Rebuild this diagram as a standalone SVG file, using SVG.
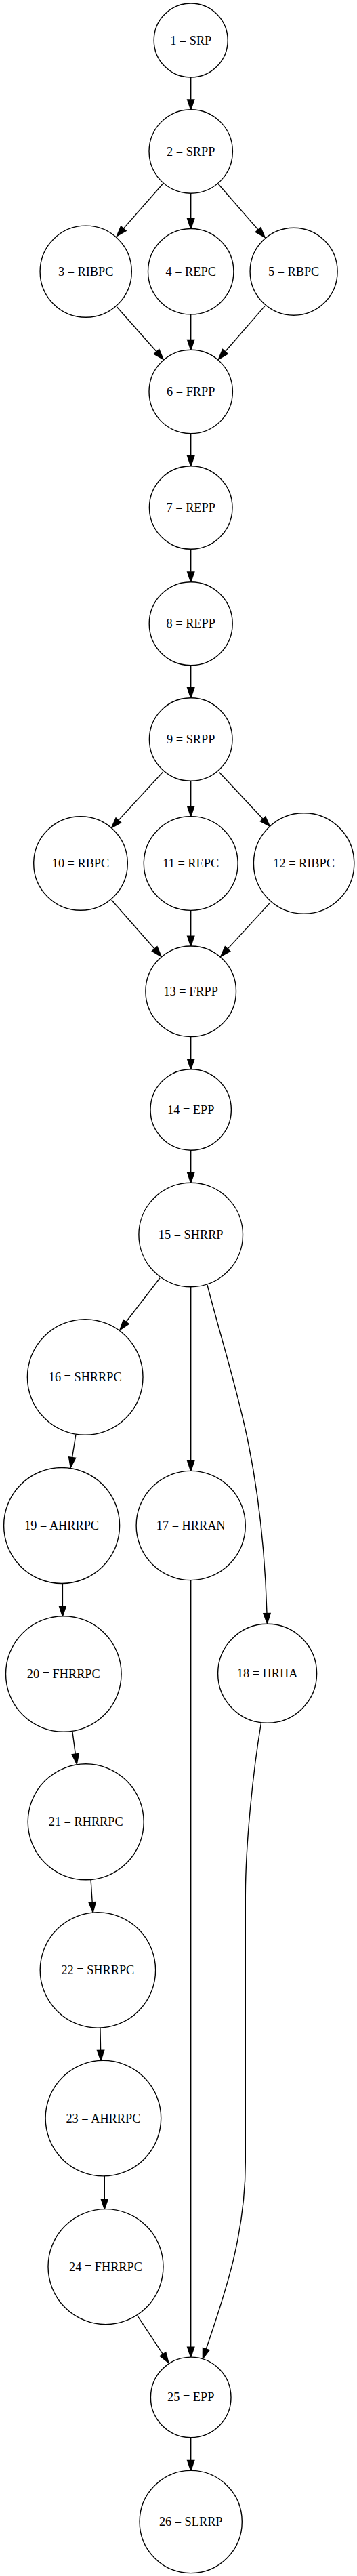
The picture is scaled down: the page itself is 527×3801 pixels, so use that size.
<svg xmlns="http://www.w3.org/2000/svg" width="527" height="3801" viewBox="0 0 527 3801">
<style>
.n circle{fill:#fff;stroke:#000;stroke-width:1.4}
.n text{font-family:"Liberation Serif","Times New Roman",serif;font-size:18.3px;text-anchor:middle;fill:#000}
.e path{fill:none;stroke:#000;stroke-width:1.4;marker-end:url(#ah)}
</style>
<defs>
<marker id="ah" markerUnits="userSpaceOnUse" markerWidth="20" markerHeight="14" refX="0" refY="0" orient="auto" overflow="visible" viewBox="-1 -6 17 12">
<path d="M-0.5,-5.2 L15,0 L-0.5,5.2 z" fill="#000"/>
</marker>
</defs>
<rect width="527" height="3801" fill="#fff"/>
<g id="edges" class="e">
<path d="M281.7,114 L281.7,146.8"/>
<path d="M240.3,271.3 L182.4,337.1"/>
<path d="M281.7,285.2 L281.7,322.5"/>
<path d="M322,271.3 L381,338.9"/>
<path d="M172.4,452.7 L231,518.8"/>
<path d="M281.7,463.9 L281.7,501.3"/>
<path d="M390.9,451.6 L332.5,518.7"/>
<path d="M281.7,639.7 L281.7,672.7"/>
<path d="M281.7,810.3 L281.7,843.8"/>
<path d="M281.7,981.8 L281.7,1014.7"/>
<path d="M240.3,1139.3 L174.9,1210.4"/>
<path d="M281.7,1152.3 L281.7,1189.6"/>
<path d="M323.4,1139.3 L388,1208.3"/>
<path d="M164.7,1328 L228.1,1400"/>
<path d="M281.7,1343.4 L281.7,1381"/>
<path d="M399,1331.6 L336.1,1400.1"/>
<path d="M281.7,1529.6 L281.7,1562.8"/>
<path d="M281.7,1697.2 L281.7,1730.2"/>
<path d="M236,1885.7 L186.3,1950.3"/>
<path d="M281.7,1898.8 L281.7,2155.4"/>
<path d="M306,1896 C326,1974 351.1,2052 366.7,2130 C383.3,2213 391.5,2297.5 394,2380.5"/>
<path d="M111.9,2117 L106.6,2150.5"/>
<path d="M92.4,2336.5 L92.4,2369.7"/>
<path d="M106.9,2555 L111.3,2587.9"/>
<path d="M134.1,2774 L136.2,2806.8"/>
<path d="M147.9,2992 L148.6,3025.3"/>
<path d="M154.3,3211 L154.3,3244.6"/>
<path d="M203,3417.2 L240.4,3473.7"/>
<path d="M281.7,2331.8 L281.7,3463"/>
<path d="M385.5,2542 C374,2610 362.3,2720 362.3,2800 L362.3,3190 C362.3,3300 330,3390 304.3,3465.9"/>
<path d="M281.7,3596.7 L281.7,3630.4"/>
</g>
<g id="node1" class="n"><circle cx="281.7" cy="59.5" r="54.5"/><text x="281.7" y="65.5">1 = SRP</text></g>
<g id="node2" class="n"><circle cx="281.7" cy="223.5" r="61.7"/><text x="281.7" y="229.5">2 = SRPP</text></g>
<g id="node3" class="n"><circle cx="126.7" cy="400.7" r="67.6"/><text x="126.7" y="406.7">3 = RIBPC</text></g>
<g id="node4" class="n"><circle cx="281.7" cy="400.7" r="63.2"/><text x="281.7" y="406.7">4 = REPC</text></g>
<g id="node5" class="n"><circle cx="433.6" cy="400.7" r="64.5"/><text x="433.6" y="406.7">5 = RBPC</text></g>
<g id="node6" class="n"><circle cx="281.7" cy="578" r="61.7"/><text x="281.7" y="584">6 = FRPP</text></g>
<g id="node7" class="n"><circle cx="281.7" cy="749" r="61.3"/><text x="281.7" y="755">7 = REPP</text></g>
<g id="node8" class="n"><circle cx="281.7" cy="920.3" r="61.5"/><text x="281.7" y="926.3">8 = REPP</text></g>
<g id="node9" class="n"><circle cx="281.7" cy="1091" r="61.3"/><text x="281.7" y="1097">9 = SRPP</text></g>
<g id="node10" class="n"><circle cx="119" cy="1274" r="69.3"/><text x="119" y="1280">10 = RBPC</text></g>
<g id="node11" class="n"><circle cx="281.7" cy="1274" r="69.4"/><text x="281.7" y="1280">11 = REPC</text></g>
<g id="node12" class="n"><circle cx="448.6" cy="1274" r="74.2"/><text x="448.6" y="1280">12 = RIBPC</text></g>
<g id="node13" class="n"><circle cx="281.7" cy="1462.8" r="66.8"/><text x="281.7" y="1468.8">13 = FRPP</text></g>
<g id="node14" class="n"><circle cx="281.7" cy="1637.5" r="59.7"/><text x="281.7" y="1643.5">14 = EPP</text></g>
<g id="node15" class="n"><circle cx="281.7" cy="1822" r="76.8"/><text x="281.7" y="1828">15 = SHRRP</text></g>
<g id="node16" class="n"><circle cx="125.7" cy="2032" r="85.3"/><text x="125.7" y="2038">16 = SHRRPC</text></g>
<g id="node17" class="n"><circle cx="281.7" cy="2251" r="80.6"/><text x="281.7" y="2257">17 = HRRAN</text></g>
<g id="node18" class="n"><circle cx="394.6" cy="2469.3" r="73"/><text x="394.6" y="2475.3">18 = HRHA</text></g>
<g id="node19" class="n"><circle cx="91.1" cy="2251" r="85.5"/><text x="91.1" y="2257">19 = AHRRPC</text></g>
<g id="node20" class="n"><circle cx="93.8" cy="2470" r="85.3"/><text x="93.8" y="2476">20 = FHRRPC</text></g>
<g id="node21" class="n"><circle cx="126.7" cy="2688.3" r="85.5"/><text x="126.7" y="2694.3">21 = RHRRPC</text></g>
<g id="node22" class="n"><circle cx="144.4" cy="2907" r="85.2"/><text x="144.4" y="2913">22 = SHRRPC</text></g>
<g id="node23" class="n"><circle cx="152.4" cy="3125.6" r="85.3"/><text x="152.4" y="3131.6">23 = AHRRPC</text></g>
<g id="node24" class="n"><circle cx="156" cy="3344.6" r="85"/><text x="156" y="3350.6">24 = FHRRPC</text></g>
<g id="node25" class="n"><circle cx="281.7" cy="3537.4" r="59.3"/><text x="281.7" y="3543.4">25 = EPP</text></g>
<g id="node26" class="n"><circle cx="281.7" cy="3721" r="75.6"/><text x="281.7" y="3727">26 = SLRRP</text></g>
</svg>
